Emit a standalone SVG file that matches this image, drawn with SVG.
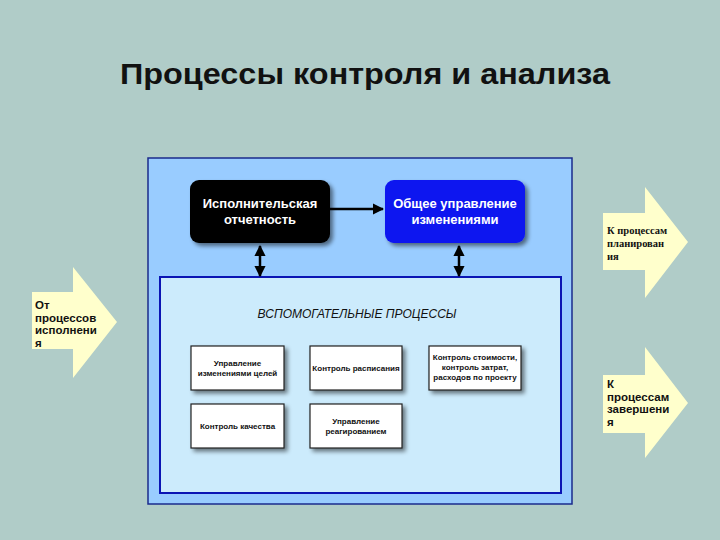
<svg xmlns="http://www.w3.org/2000/svg" width="720" height="540" viewBox="0 0 720 540">
<defs>
<filter id="sh" x="-20%" y="-20%" width="150%" height="150%">
<feGaussianBlur in="SourceAlpha" stdDeviation="2"/>
<feOffset dx="3" dy="3" result="b"/>
<feComponentTransfer><feFuncA type="linear" slope="0.5"/></feComponentTransfer>
<feMerge><feMergeNode/><feMergeNode in="SourceGraphic"/></feMerge>
</filter>
<marker id="ah" viewBox="0 0 10 10" refX="9" refY="5" markerWidth="4.5" markerHeight="4.5" orient="auto-start-reverse">
<path d="M0,0 L10,5 L0,10 z" fill="#000"/>
</marker>
</defs>
<style>
.big{fill:#FFFFFF;font-family:"Liberation Sans",Arial,sans-serif;font-weight:bold;font-size:13px;text-anchor:middle}
.sm{fill:#FFFFFF;stroke:#222;stroke-width:1.2}
.smt{fill:#111;font-family:"Liberation Sans",Arial,sans-serif;font-weight:bold;font-size:8px;text-anchor:middle}
.arr{fill:#FFFFCC}
.at{fill:#111;font-family:"Liberation Sans",Arial,sans-serif;font-weight:bold;font-size:11.5px}
.st{fill:#111;font-family:"Liberation Serif","Times New Roman",serif;font-weight:bold;font-size:10.5px}
.conn{stroke:#000;stroke-width:2.5;fill:none}
</style>
<rect width="720" height="540" fill="#B0CCC8"/>
<text x="365" y="84" font-family="Liberation Sans,Arial,sans-serif" font-weight="bold" font-size="29" text-anchor="middle" textLength="490" lengthAdjust="spacingAndGlyphs" fill="#111">Процессы контроля и анализа</text>

<g id="outer">
<rect x="148" y="158" width="424" height="346" fill="#99CCFF" stroke="#1A2A8C" stroke-width="1.5"/>
</g>
<g id="inner">
<rect x="160" y="277" width="401" height="216" fill="#CCEBFC" stroke="#0A14B4" stroke-width="2"/>
<text x="357" y="318" font-family="Liberation Sans,Arial,sans-serif" font-style="italic" font-size="12" text-anchor="middle" fill="#111">ВСПОМОГАТЕЛЬНЫЕ ПРОЦЕССЫ</text>
</g>

<g id="exec">
<rect x="190" y="180" width="140" height="63" rx="9" fill="#000" filter="url(#sh)"/>
<text class="big" x="260" y="208">Исполнительская</text>
<text class="big" x="260" y="224">отчетность</text>
</g>
<g id="change">
<rect x="385" y="180" width="140" height="63" rx="9" fill="#0A14F0" filter="url(#sh)"/>
<text class="big" x="455" y="208">Общее управление</text>
<text class="big" x="455" y="224">изменениями</text>
</g>

<g id="n1">
<rect class="sm" x="191" y="346" width="93" height="44" filter="url(#sh)"/>
<text class="smt" x="237.5" y="366">Управление</text>
<text class="smt" x="237.5" y="376">изменениями целей</text>
</g>
<g id="n2">
<rect class="sm" x="310" y="346" width="92" height="44" filter="url(#sh)"/>
<text class="smt" x="356" y="371">Контроль расписания</text>
</g>
<g id="n3">
<rect class="sm" x="429" y="346" width="92" height="44" filter="url(#sh)"/>
<text class="smt" x="475" y="360">Контроль стоимости,</text>
<text class="smt" x="475" y="370">контроль затрат,</text>
<text class="smt" x="475" y="380">расходов по проекту</text>
</g>
<g id="n4">
<rect class="sm" x="191" y="404" width="93" height="44" filter="url(#sh)"/>
<text class="smt" x="237.5" y="429">Контроль качества</text>
</g>
<g id="n5">
<rect class="sm" x="310" y="404" width="92" height="44" filter="url(#sh)"/>
<text class="smt" x="356" y="424">Управление</text>
<text class="smt" x="356" y="434">реагированием</text>
</g>

<g id="connectors">
<line class="conn" x1="330" y1="209" x2="383" y2="209" marker-end="url(#ah)"/>
<line class="conn" x1="260" y1="246" x2="260" y2="276" marker-start="url(#ah)" marker-end="url(#ah)"/>
<line class="conn" x1="459" y1="246" x2="459" y2="276" marker-start="url(#ah)" marker-end="url(#ah)"/>
</g>

<g id="from-exec">
<polygon class="arr" points="32,292 73,292 73,267 117,322 73,378 73,349 32,349"/>
<text class="at" x="35" y="309">От</text>
<text class="at" x="35" y="321.5">процессов</text>
<text class="at" x="35" y="334">исполнени</text>
<text class="at" x="35" y="346.5">я</text>
</g>
<g id="to-plan">
<polygon class="arr" points="603,213 645,213 645,187 688,242 645,298 645,270 603,270"/>
<text class="st" x="607" y="234">К процессам</text>
<text class="st" x="607" y="247">планирован</text>
<text class="st" x="607" y="260">ия</text>
</g>
<g id="to-close">
<polygon class="arr" points="603,375 645,375 645,347 688,403 645,458 645,433 603,433"/>
<text class="at" x="607" y="388">К</text>
<text class="at" x="607" y="400.5">процессам</text>
<text class="at" x="607" y="413">завершени</text>
<text class="at" x="607" y="425.5">я</text>
</g>
</svg>
